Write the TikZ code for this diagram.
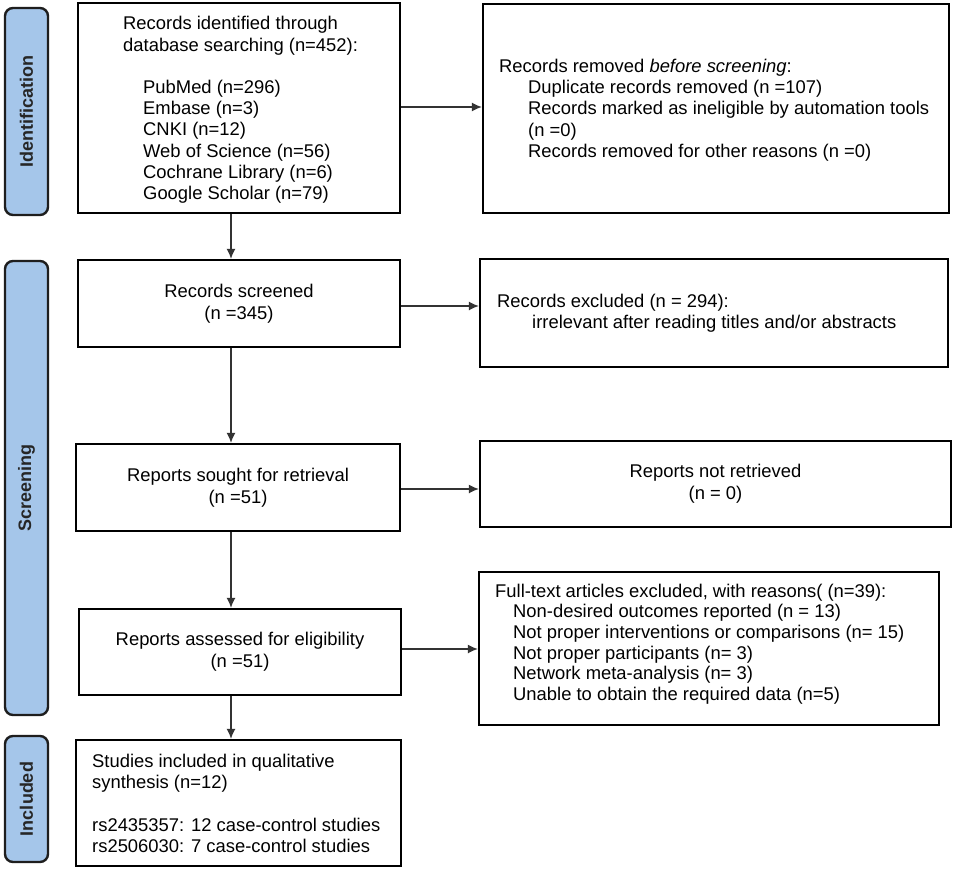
\documentclass[tikz,border=0pt]{standalone}
\usepackage{fontspec}
\setmainfont{Liberation Sans}
\usetikzlibrary{arrows.meta}
\definecolor{sidefill}{RGB}{165,198,234}
\definecolor{sidedraw}{RGB}{30,30,30}
\begin{document}
\begin{tikzpicture}[x=1pt,y=-1pt,
  box/.style={draw=black,line width=2.2pt,fill=white,rectangle,inner sep=0pt},
  side/.style={draw=sidedraw,line width=2.4pt,fill=sidefill,rounded corners=8pt,inner sep=0pt},
  txt/.style={align=left,inner sep=0pt,font=\fontsize{18.4}{21.3}\selectfont},
  ctxt/.style={align=center,inner sep=0pt,font=\fontsize{18.4}{21.6}\selectfont},
  sidetxt/.style={rotate=90,inner sep=0pt,font=\fontsize{18}{21}\selectfont\bfseries,text=black!85},
  arr/.style={draw=black!80,line width=1.4pt,-{Latex[length=10pt,width=9pt]}}]
\useasboundingbox (0,0) rectangle (972,870);
\fill[white] (0,0) rectangle (972,870);
% side labels
\node[side,minimum width=43,minimum height=207] (s1) at (26.5,111.5) {};
\node[sidetxt] (s1t) at (s1.center) {Identification};
\node[side,minimum width=43,minimum height=454] (s2) at (26.5,488) {};
\node[sidetxt] (s2t) at (s2.center) {Screening};
\node[side,minimum width=43,minimum height=126] (s3) at (26.5,799) {};
\node[sidetxt] (s3t) at (s3.center) {Included};
% boxes
\node[box,minimum width=322,minimum height=210] (b1) at (239,108) {};
\node[txt,anchor=west] (t1) at (123,110) {Records identified through\\database searching (n=452):\\[21pt]
\hspace*{20pt}PubMed (n=296)\\\hspace*{20pt}Embase (n=3)\\\hspace*{20pt}CNKI (n=12)\\\hspace*{20pt}Web of Science (n=56)\\\hspace*{20pt}Cochrane Library (n=6)\\\hspace*{20pt}Google Scholar (n=79)};
\node[box,minimum width=466,minimum height=209] (b2) at (716,108.5) {};
\node[txt,anchor=west] (t2) at (499,110) {Records removed \textit{before screening}:\\
\hspace*{29pt}Duplicate records removed (n =107)\\
\hspace*{29pt}Records marked as ineligible by automation tools\\
\hspace*{29pt}(n =0)\\
\hspace*{29pt}Records removed for other reasons (n =0)};
\node[box,minimum width=322,minimum height=87] (b3) at (239,303.5) {};
\node[ctxt] (t3) at (b3.center) {Records screened\\(n =345)};
\node[box,minimum width=468,minimum height=108] (b4) at (714,313) {};
\node[txt,anchor=west] (t4) at (497,313.5) {Records excluded (n = 294):\\\hspace*{35pt}irrelevant after reading titles and/or abstracts};
\node[box,minimum width=324,minimum height=87] (b5) at (238,487.5) {};
\node[ctxt] (t5) at (b5.center) {Reports sought for retrieval\\(n =51)};
\node[box,minimum width=471,minimum height=86] (b6) at (715.5,484) {};
\node[ctxt] (t6) at (b6.center) {Reports not retrieved\\(n = 0)};
\node[box,minimum width=322,minimum height=86] (b7) at (240,652) {};
\node[ctxt] (t7) at (b7.center) {Reports assessed for eligibility\\(n =51)};
\node[box,minimum width=460,minimum height=153] (b8) at (709,648.5) {};
\node[txt,anchor=west,font=\fontsize{18.4}{20.6}\selectfont] (t8) at (495,644) {Full-text articles excluded, with reasons( (n=39):\\
\hspace*{18pt}Non-desired outcomes reported (n = 13)\\
\hspace*{18pt}Not proper interventions or comparisons (n= 15)\\
\hspace*{18pt}Not proper participants (n= 3)\\
\hspace*{18pt}Network meta-analysis (n= 3)\\
\hspace*{18pt}Unable to obtain the required data (n=5)};
\node[box,minimum width=325,minimum height=126] (b9) at (238.5,803) {};
\node[txt,anchor=west] (t9) at (92,803.5) {Studies included in qualitative\\synthesis (n=12)\\[21pt]rs2435357: 12 case-control studies\\rs2506030: 7 case-control studies};
% connectors
\coordinate (vx) at (231,0);
\draw[arr] (b1.south -| vx) -- (b3.north -| vx);
\draw[arr] (b3.south -| vx) -- (b5.north -| vx);
\draw[arr] (b5.south -| vx) -- (b7.north -| vx);
\draw[arr] (b7.south -| vx) -- (b9.north -| vx);
\coordinate (h1) at (0,107);
\coordinate (h2) at (0,306);
\coordinate (h3) at (0,489);
\coordinate (h4) at (0,649);
\draw[arr] (b1.east |- h1) -- (b2.west |- h1);
\draw[arr] (b3.east |- h2) -- (b4.west |- h2);
\draw[arr] (b5.east |- h3) -- (b6.west |- h3);
\draw[arr] (b7.east |- h4) -- (b8.west |- h4);
\end{tikzpicture}
\end{document}
